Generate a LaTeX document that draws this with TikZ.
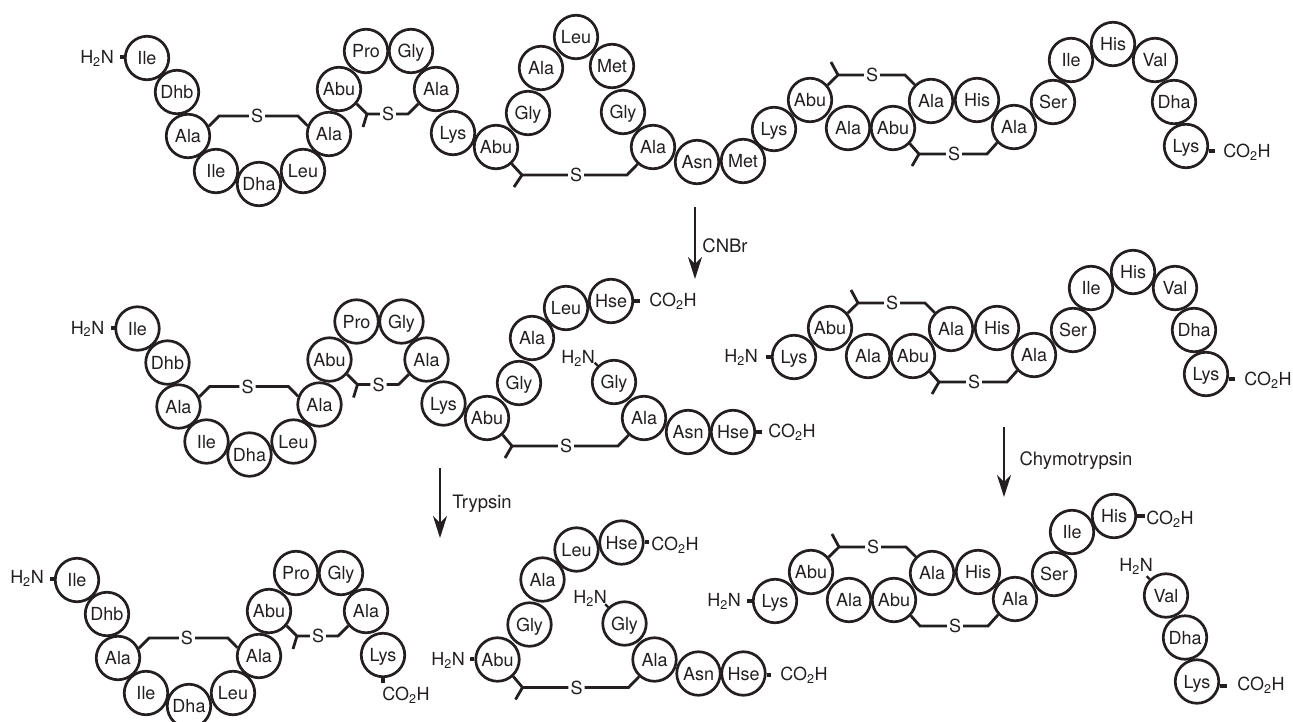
\documentclass[tikz,border=0pt]{standalone}
\usepackage{fontspec}
\setmainfont{TeX Gyre Heros}
\usetikzlibrary{arrows.meta}
\definecolor{ink}{HTML}{231F20}
\tikzset{
  pic font/.style={font=\fontsize{18}{20}\selectfont, text=ink, text height=13pt, text depth=0pt},
  res/.style={circle, draw=ink, line width=2.7pt, minimum size=43.5pt, inner sep=0pt, pic font},
  lab/.style={inner sep=0pt, pic font},
  enz/.style={inner sep=0pt, pic font, font=\fontsize{18.5}{20}\selectfont},
  sul/.style={inner sep=0pt, minimum width=16pt, pic font},
  link/.style={draw=ink, line width=2.8pt},
  stub/.style={draw=ink, line width=4pt},
  tick/.style={draw=ink, line width=2.2pt},
  arr/.style={draw=ink, line width=2pt, -{Stealth[length=22pt,width=14pt,inset=7pt]}}
}
\newcommand\Res[3]{\node[res] (#1) at (#2) {#3};}
\newcommand\Lab[3]{\node[lab] (#1) at (#2) {#3};}
\newcommand\HN{H\textsubscript{2}N}
\newcommand\COH{CO\textsubscript{2}H}
\newcommand\Stub[3]{\coordinate (#1e) at (#2); \draw[stub] (#1e) -- (#1e -| #3);}
\newcommand\Slink[6]{%
  \coordinate (#1p) at (#3); \coordinate (#1q) at (#5);
  \node[sul] (#1s) at (#4) {S};
  \draw[link] (#2) -- (#1p) -- (#1s);
  \draw[link] (#1s) -- (#1q) -- (#6);
}
\newcommand\Branch[2]{\coordinate (#1b) at (#2); \draw[link] (#1p) -- (#1b);}
% left fragment
\newcommand\BlockL[3]{\begin{scope}[shift={(#2,#3)}]
  \Res{#1a}{147,58}{Ile}
  \Res{#1b}{177,92}{Dhb}
  \Res{#1c}{188,136}{Ala}
  \Res{#1d}{216,171}{Ile}
  \Res{#1e}{259,184}{Dha}
  \Res{#1f}{303,171}{Leu}
  \Res{#1g}{329,134}{Ala}
  \Res{#1h}{339,89}{Abu}
  \Res{#1i}{366,51}{Pro}
  \Res{#1j}{411,51}{Gly}
  \Res{#1k}{436,89}{Ala}
  \Res{#1l}{453,133}{Lys}
  \Slink{#1x}{#1c.25}{219,116}{257,116}{298,116}{#1g.159}
  \Slink{#1y}{#1h.-40}{367,114}{388,114}{408,114}{#1k.220}
  \Branch{#1y}{363,127}
\end{scope}}
% cyclic middle fragment after CNBr
\newcommand\BlockM[3]{\begin{scope}[shift={(#2,#3)}]
  \Res{#1a}{487,418}{Abu}
  \Res{#1b}{519,383}{Gly}
  \Res{#1c}{532,338}{Ala}
  \Res{#1d}{566,308}{Leu}
  \Res{#1e}{611,301}{Hse}
  \Res{#1f}{614,382}{Gly}
  \Res{#1g}{644,418}{Ala}
  \Res{#1h}{688,432}{Asn}
  \Res{#1i}{733,432}{Hse}
  \Slink{#1x}{#1a.-47}{512,446}{566,446}{618,446}{#1g.228}
  \Branch{#1x}{505,458}
\end{scope}}
% C-terminal bicyclic fragment
\newcommand\BlockR[3]{\begin{scope}[shift={(#2,#3)}]
  \Res{#1a}{774,129}{Lys}
  \Res{#1b}{810,100}{Abu}
  \Res{#1c}{848,128}{Ala}
  \Res{#1d}{893,128}{Abu}
  \Res{#1e}{931,101}{Ala}
  \Res{#1f}{977,100}{His}
  \Res{#1g}{1014,127}{Ala}
  \Res{#1h}{1053,102}{Ser}
  \Res{#1i}{1071,60}{Ile}
  \Res{#1j}{1113,44}{His}
  \Slink{#1x}{#1b.40}{838,75}{872,75}{905,75}{#1e.135}
  \Branch{#1x}{831,62}
  \Slink{#1y}{#1d.-43}{919,154}{954,154}{987,154}{#1g.223}
\end{scope}}
\newcommand\BlockT[3]{\begin{scope}[shift={(#2,#3)}]
  \Res{#1k}{1155,60}{Val}
  \Res{#1l}{1174,102}{Dha}
  \Res{#1m}{1186,146}{Lys}
\end{scope}}
\begin{document}
\begin{tikzpicture}[x=1pt,y=-1pt]
\clip (0,0) rectangle (1293,721);
% ===== top peptide =====
\BlockL{ta}{0}{0}
\Res{tm1}{496,147}{Abu}
\Res{tm2}{528,113}{Gly}
\Res{tm3}{541,68}{Ala}
\Res{tm4}{576,37}{Leu}
\Res{tm5}{612,66}{Met}
\Res{tm6}{623,112}{Gly}
\Res{tm7}{653,147}{Ala}
\Res{tm8}{697,162}{Asn}
\Res{tm9}{743,161}{Met}
\Slink{tmx}{tm1.-47}{522,175}{576,175}{627,175}{tm7.228}
\Branch{tmx}{514,187}
\BlockR{tr}{0}{0}
\BlockT{tr}{0}{0}
\Branch{try}{912,166}
\Lab{tn}{97,57}{\HN}
\Stub{tns}{120,57}{taa.172}
\Lab{tc}{1247,151}{\COH}
\Stub{tcs}{1215,151}{trm.12}
% ===== CNBr arrow =====
\coordinate (a1s) at (695,207); \coordinate (a1e) at (695,279);
\draw[arr] (a1s) -- (a1e);
\node[enz] (a1l) at (725,246) {CNBr};
% ===== middle row =====
\BlockL{ma}{-9.5}{270.5}
\BlockM{mm}{0}{0}
\BlockR{mr}{20}{228}
\BlockT{mr}{20}{228}
\Branch{mry}{932,394}
\Lab{mn}{87.5,327.5}{\HN}
\Stub{mns}{111,328}{maa.172}
\Lab{mc1}{673,300}{\COH}
\Stub{mc1s}{640,301}{mme.0}
\Lab{mn2}{578,357}{\HN}
\draw[tick] (mmf.135) -- ++(-3,-3);
\Lab{mc2}{792,431}{\COH}
\Stub{mc2s}{762,432}{mmi.0}
\Lab{mn3}{741,356}{\HN}
\Stub{mn3s}{766,357}{mra.172}
\Lab{mc3}{1268,379}{\COH}
\Stub{mc3s}{1235,379}{mrm.12}
% ===== enzyme arrows =====
\coordinate (a2s) at (440,468); \coordinate (a2e) at (440,538);
\draw[arr] (a2s) -- (a2e);
\node[enz] (a2l) at (482,502) {Trypsin};
\coordinate (a3s) at (1004,427); \coordinate (a3e) at (1004,497);
\draw[arr] (a3s) -- (a3e);
\node[enz] (a3l) at (1076,459) {Chymotrypsin};
% ===== bottom row =====
\BlockL{ba}{-70}{522}
\Lab{bn}{27,577}{\HN}
\Stub{bns}{50,579}{baa.172}
\coordinate (bce) at (383,683);
\draw[stub] (bce) -- (bal);
\Lab{bc}{406,694}{\COH}
\BlockM{bm}{10.5}{241.5}
\Lab{bn2}{448,659}{\HN}
\Stub{bn2s}{470,659}{bma.180}
\Lab{bc1}{675,544}{\COH}
\Stub{bc1s}{649,542}{bme.0}
\Lab{bn3}{590,597}{\HN}
\draw[tick] (bmf.135) -- ++(-3,-3);
\Lab{bc2}{804,674}{\COH}
\Stub{bc2s}{771,675}{bmi.0}
\BlockR{br}{1}{472}
\BlockT{br}{11}{535.5}
\Lab{bn4}{724,600}{\HN}
\Stub{bn4s}{747,601}{bra.180}
\Lab{bc3}{1170,518}{\COH}
\Stub{bc3s}{1145,516}{brj.0}
\Lab{bn5}{1136,565}{\HN}
\draw[tick] (brk.135) -- ++(-3,-3);
\Lab{bc4}{1261,684}{\COH}
\Stub{bc4s}{1227,686}{brm.12}
\end{tikzpicture}
\end{document}
